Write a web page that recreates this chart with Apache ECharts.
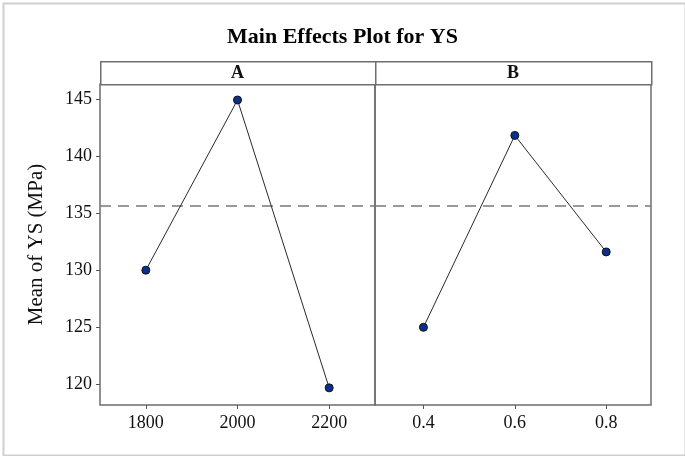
<!DOCTYPE html>
<html>
<head>
<meta charset="utf-8">
<script src="https://cdn.jsdelivr.net/npm/echarts@6/dist/echarts.min.js"></script>
<style>
  html, body { margin: 0; padding: 0; background: #fff; }
  #chart { width: 685px; height: 456px; }
</style>
</head>
<body>
<div id="chart"></div>
<script>
// factor levels and means
const aLevels = [1800, 2000, 2200]
const aMeans = [130.0, 144.9, 119.7]
const bLevels = [0.4, 0.6, 0.8]
const bMeans = [125.0, 141.8, 131.6]
const grandMean = 135.6
const yTicks = [120, 125, 130, 135, 140, 145]
const panelNames = ['A', 'B']

const serif = '"Liberation Serif", "Times New Roman", serif'
const frame = '#6e6e6e'

const chart = echarts.init(document.getElementById('chart'))

const panelLeft = [100, 375]
const panelWidth = [275, 276]

function xAxisFor(idx, levels, min, max) {
  return {
    type: 'value',
    gridIndex: idx,
    min: min,
    max: max,
    axisLine: { show: false },
    splitLine: { show: false },
    axisTick: { show: true, customValues: levels, length: 4, lineStyle: { color: '#555' } },
    axisLabel: {
      customValues: levels,
      margin: 9,
      fontFamily: serif,
      fontSize: 18,
      color: '#111',
      formatter: v => String(v)
    }
  }
}

function yAxisFor(idx) {
  return {
    type: 'value',
    gridIndex: idx,
    min: 118.2,
    max: 146.3,
    axisLine: { show: false },
    splitLine: { show: false },
    axisTick: { show: idx === 0, customValues: yTicks, length: 4, lineStyle: { color: '#555' } },
    axisLabel: {
      show: idx === 0,
      customValues: yTicks,
      margin: 8,
      fontFamily: serif,
      fontSize: 18,
      color: '#111'
    },
    name: idx === 0 ? 'Mean of YS (MPa)' : '',
    nameLocation: 'middle',
    nameGap: 53,
    nameTextStyle: { fontFamily: serif, fontSize: 21, color: '#111' }
  }
}

function seriesFor(idx, levels, means) {
  return {
    type: 'line',
    xAxisIndex: idx,
    yAxisIndex: idx,
    data: levels.map((v, i) => [v, means[i]]),
    symbol: 'circle',
    symbolSize: 8,
    lineStyle: { color: '#2a2a2a', width: 1 },
    itemStyle: { color: '#0b2f8f', borderColor: '#111', borderWidth: 1 },
    z: 5,
    markLine: {
      silent: true,
      symbol: 'none',
      label: { show: false },
      lineStyle: { color: '#7a7a7a', type: [11, 7], width: 1.5 },
      data: [{ yAxis: grandMean }]
    }
  }
}

const headerGraphics = []
panelNames.forEach((name, i) => {
  headerGraphics.push({
    type: 'rect',
    left: panelLeft[i],
    top: 61,
    shape: { width: panelWidth[i], height: 23 },
    style: { fill: '#fff', stroke: frame, lineWidth: 1.5 }
  })
  headerGraphics.push({
    type: 'text',
    x: panelLeft[i] + panelWidth[i] / 2,
    y: 73,
    style: {
      text: name,
      font: 'bold 18px ' + serif,
      fill: '#111',
      align: 'center',
      verticalAlign: 'middle'
    }
  })
})

const option = {
  animation: false,
  backgroundColor: '#fff',
  title: {
    text: 'Main Effects Plot for YS',
    left: 'center',
    top: 21,
    textStyle: { fontFamily: serif, fontSize: 22, fontWeight: 'bold', color: '#000' }
  },
  grid: [0, 1].map(i => ({
    left: panelLeft[i],
    top: 84,
    width: panelWidth[i],
    height: 321,
    show: true,
    borderColor: frame,
    borderWidth: 1.5,
    backgroundColor: 'transparent'
  })),
  xAxis: [
    xAxisFor(0, aLevels, 1700, 2300),
    xAxisFor(1, bLevels, 0.294, 0.898)
  ],
  yAxis: [yAxisFor(0), yAxisFor(1)],
  series: [
    seriesFor(0, aLevels, aMeans),
    seriesFor(1, bLevels, bMeans)
  ],
  graphic: [
    {
      type: 'rect',
      left: 1,
      top: 1,
      shape: { width: 682, height: 452 },
      style: { fill: 'none', stroke: '#cfcfcf', lineWidth: 2 },
      silent: true
    }
  ].concat(headerGraphics)
}

chart.setOption(option)
</script>
</body>
</html>
